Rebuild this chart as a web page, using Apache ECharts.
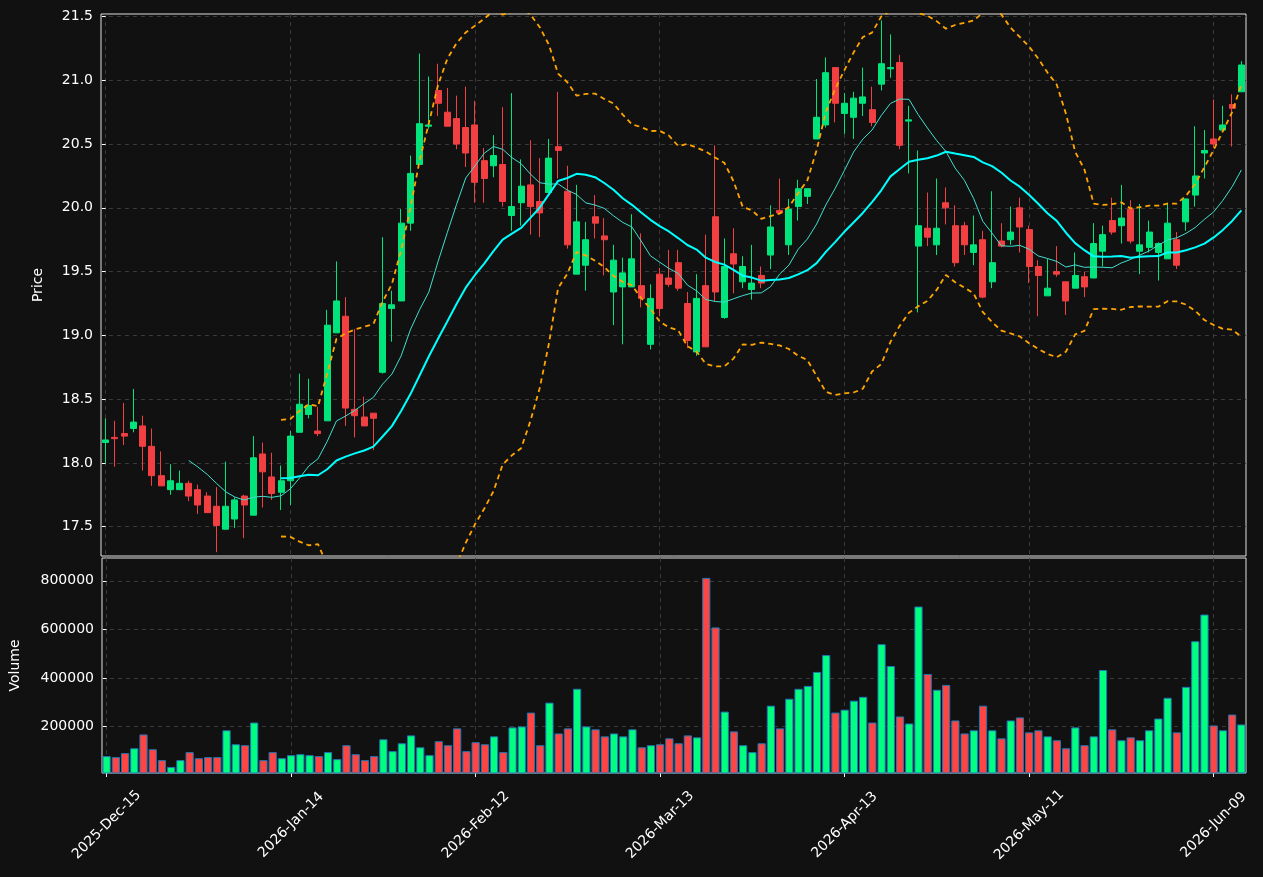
<!DOCTYPE html>
<html><head><meta charset="utf-8">
<script src="https://cdn.jsdelivr.net/npm/echarts@6/dist/echarts.min.js"></script>
<style>html,body{margin:0;padding:0;background:#111111;}#c{width:1263px;height:877px;}</style>
</head><body><div id="c"></div>
<script>
const tickIndex = [0, 20, 40, 60, 80, 100, 120];
const tickLabels = ['2025-Dec-15','2026-Jan-14','2026-Feb-12','2026-Mar-13','2026-Apr-13','2026-May-11','2026-Jun-09'];
const priceTicks = [17.5,18.0,18.5,19.0,19.5,20.0,20.5,21.0,21.5];
const volumeTicks = [200000,400000,600000,800000];
const opens = [18.16,18.20,18.23,18.27,18.29,18.13,17.90,17.79,17.79,17.84,17.79,17.74,17.66,17.48,17.56,17.74,17.59,18.07,17.89,17.77,
17.86,18.24,18.38,18.25,18.33,19.02,19.15,18.42,18.36,18.39,18.71,19.21,19.27,19.88,20.34,20.64,20.92,20.75,20.70,20.63,
20.65,20.37,20.33,20.34,19.94,20.04,20.18,20.05,20.12,20.48,20.13,19.48,19.55,19.93,19.78,19.34,19.38,19.38,19.39,18.93,
19.48,19.45,19.57,19.25,18.87,19.39,19.93,19.14,19.64,19.42,19.36,19.47,19.63,19.98,19.71,20.01,20.09,20.54,20.65,21.10,
20.74,20.71,20.82,20.77,20.97,21.09,21.14,20.68,19.70,19.84,19.71,20.04,19.86,19.86,19.65,19.75,19.42,19.74,19.75,20.00,
19.83,19.54,19.31,19.50,19.42,19.37,19.46,19.45,19.66,19.90,19.86,19.99,19.66,19.69,19.65,19.60,19.75,19.89,20.10,20.43,
20.54,20.61,20.81,20.91];
const closes = [18.18,18.19,18.21,18.32,18.13,17.90,17.82,17.86,17.84,17.74,17.67,17.61,17.51,17.66,17.71,17.67,18.04,17.93,17.76,17.86,
18.21,18.46,18.45,18.23,19.08,19.27,18.43,18.37,18.29,18.35,19.25,19.24,19.88,20.27,20.66,20.65,20.82,20.64,20.50,20.43,
20.20,20.23,20.41,20.05,20.01,20.17,20.01,19.96,20.39,20.45,19.71,19.89,19.75,19.88,19.75,19.59,19.49,19.60,19.29,19.29,
19.21,19.40,19.37,18.96,19.29,18.91,19.34,19.54,19.56,19.54,19.41,19.41,19.85,19.96,19.99,20.15,20.15,20.71,21.06,20.82,
20.82,20.86,20.87,20.67,21.13,21.10,20.49,20.69,19.86,19.77,19.84,20.00,19.57,19.71,19.71,19.30,19.57,19.70,19.81,19.85,
19.54,19.47,19.37,19.48,19.27,19.47,19.38,19.72,19.79,19.81,19.92,19.74,19.71,19.81,19.72,19.88,19.55,20.07,20.25,20.45,
20.50,20.65,20.78,21.12];
const lows = [18.00,17.97,18.14,18.24,17.94,17.82,17.82,17.75,17.79,17.70,17.60,17.61,17.30,17.48,17.49,17.41,17.59,17.65,17.71,17.63,
17.67,18.24,18.35,18.21,18.33,19.02,18.29,18.20,18.29,18.10,18.70,18.95,19.27,19.82,20.34,20.62,20.72,20.64,20.46,20.32,
20.04,20.04,20.24,20.01,19.82,19.86,19.79,19.77,20.12,20.23,19.68,19.48,19.35,19.76,19.47,19.08,18.93,19.38,19.22,18.89,
19.15,19.38,19.35,18.90,18.84,18.91,19.27,19.13,19.33,19.37,19.28,19.37,19.52,19.96,19.63,19.90,20.03,20.54,20.63,20.67,
20.58,20.54,20.72,20.64,20.92,21.02,20.46,20.27,19.18,19.70,19.63,19.87,19.54,19.63,19.55,19.29,19.37,19.69,19.71,19.65,
19.41,19.15,19.31,19.46,19.16,19.37,19.30,19.45,19.54,19.79,19.72,19.72,19.48,19.65,19.43,19.60,19.52,19.82,20.01,20.23,
20.47,20.61,20.48,20.91];
const highs = [18.35,18.33,18.47,18.58,18.37,18.27,18.09,17.99,17.94,17.86,17.83,17.77,17.81,18.01,17.73,17.75,18.21,18.16,18.08,17.98,
18.25,18.70,18.66,18.44,19.20,19.58,19.30,19.05,18.52,18.39,19.77,19.35,19.99,20.41,21.21,21.03,21.13,20.94,20.88,20.95,
20.84,20.47,20.57,20.79,20.90,20.38,20.53,20.39,20.54,20.91,20.33,20.18,19.89,20.10,19.92,19.71,19.61,19.95,19.80,19.40,
19.53,19.67,19.67,19.34,19.48,19.79,20.49,19.76,19.84,19.62,19.71,19.54,20.02,20.23,20.07,20.22,20.15,21.01,21.18,21.10,
20.90,20.91,21.10,20.95,21.47,21.36,21.20,20.80,20.45,20.12,20.23,20.16,20.02,19.89,19.94,19.82,20.13,19.88,20.01,20.08,
19.86,19.59,19.60,19.70,19.42,19.65,19.50,19.88,19.86,20.08,20.18,20.06,20.03,19.90,19.73,20.04,19.81,20.07,20.64,20.61,
20.85,20.80,20.89,21.15];
const volumes = [77600,73500,90000,110000,167000,106000,61000,33000,61000,94000,69000,73500,73500,184000,126500,122500,216000,61000,94000,69000,
81500,85500,81500,77600,94000,65000,122500,85500,61000,77600,147000,98000,130500,163000,114000,81500,139000,122500,192000,98000,
135000,126500,159000,94000,196000,200000,257000,122500,298000,171000,192000,355000,200000,188000,159000,171000,159000,188000,114000,122500,
126500,151000,130500,163000,155000,812000,608000,261000,179500,122500,94000,130500,285500,192000,314000,355000,367000,424500,494000,257000,
269000,306000,322000,216000,539000,449000,241000,212000,694000,416000,351000,371000,224500,171000,184000,285500,184000,151000,224500,237000,
175500,184000,159000,143000,110000,196000,122500,159000,432500,188000,143000,155000,143000,184000,232500,318000,175500,363000,551000,661000,
204000,184000,249000,208000];

const UP='#00e47c', DOWN='#f23f42', VUP='#00ff80', VDOWN='#ff4444';
const n = closes.length;
const candles = [], vol = [];
for (let i=0;i<n;i++){
  candles.push([i, opens[i], closes[i], lows[i], highs[i]]);
  const up = closes[i] >= opens[i];
  vol.push({value:[i, volumes[i]], itemStyle:{color: up?VUP:VDOWN}});
}
function ma(p){const r=[];for(let i=0;i<n;i++){if(i<p-1){r.push([i,null]);continue;}let s=0;for(let j=i-p+1;j<=i;j++)s+=closes[j];r.push([i,s/p]);}return r;}
const ma10=ma(10), ma20=ma(20);
const bbU=[], bbL=[];
for(let i=0;i<n;i++){
  if(i<19){bbU.push([i,null]);bbL.push([i,null]);continue;}
  const m=ma20[i][1];let s=0;for(let j=i-19;j<=i;j++)s+=(closes[j]-m)**2;
  const sd=Math.sqrt(s/19);bbU.push([i,m+2*sd]);bbL.push([i,m-2*sd]);
}
const font='DejaVu Sans';
const dash={show:true,lineStyle:{color:'#3a3a3a',type:[4,4],width:1}};
const tickStyle={show:true,length:4,lineStyle:{color:'#ffffff'}};
const chart=echarts.init(document.getElementById('c'));
chart.setOption({
  backgroundColor:'#111111',
  animation:false,
  textStyle:{fontFamily:font},
  grid:[
    {left:101,right:17,top:14,height:542,show:true,borderColor:'#e0e0e0',borderWidth:1,backgroundColor:'#111111'},
    {left:101,right:17,top:558,height:215,show:true,borderColor:'#e0e0e0',borderWidth:1,backgroundColor:'#111111'}
  ],
  xAxis:[
    {type:'value',gridIndex:0,min:-0.5,max:n-0.5,axisLine:{show:false},
     axisTick:{show:false,customValues:tickIndex},axisLabel:{show:false,customValues:tickIndex},splitLine:dash},
    {type:'value',gridIndex:1,min:-0.5,max:n-0.5,axisLine:{show:false},
     axisTick:Object.assign({customValues:tickIndex},tickStyle),
     axisLabel:{show:true,customValues:tickIndex,color:'#ffffff',fontSize:14,fontFamily:font,rotate:45,margin:52,
       align:'center',verticalAlign:'middle',
       formatter:v=>{const k=tickIndex.indexOf(Math.round(v));return k>=0?tickLabels[k]:'';}},
     splitLine:dash}
  ],
  yAxis:[
    {type:'value',gridIndex:0,min:17.27,max:21.52,name:'Price',nameLocation:'middle',nameGap:56,
     nameTextStyle:{color:'#ffffff',fontSize:14,fontFamily:font},
     axisLabel:{customValues:priceTicks,color:'#ffffff',fontSize:14,fontFamily:font,formatter:v=>v.toFixed(1)},
     axisTick:Object.assign({customValues:priceTicks},tickStyle),axisLine:{show:false},splitLine:dash},
    {type:'value',gridIndex:1,min:8000,max:894000,name:'Volume',nameLocation:'middle',nameGap:80,
     nameTextStyle:{color:'#ffffff',fontSize:14,fontFamily:font},
     axisLabel:{customValues:volumeTicks,color:'#ffffff',fontSize:14,fontFamily:font,formatter:v=>String(v)},
     axisTick:Object.assign({customValues:volumeTicks},tickStyle),axisLine:{show:false},splitLine:dash}
  ],
  series:[
    {type:'candlestick',xAxisIndex:0,yAxisIndex:0,data:candles,barWidth:6.5,
     encode:{x:0,y:[1,2,3,4]},
     itemStyle:{color:UP,color0:DOWN,borderColor:UP,borderColor0:DOWN,borderWidth:1}},
    {type:'line',xAxisIndex:0,yAxisIndex:0,data:ma10,showSymbol:false,lineStyle:{color:'#40e0d0',width:1},clip:true},
    {type:'line',xAxisIndex:0,yAxisIndex:0,data:ma20,showSymbol:false,lineStyle:{color:'#00ffff',width:2},clip:true},
    {type:'line',xAxisIndex:0,yAxisIndex:0,data:bbU,showSymbol:false,lineStyle:{color:'#ffa500',width:1.8,type:[5,4]},clip:true},
    {type:'line',xAxisIndex:0,yAxisIndex:0,data:bbL,showSymbol:false,lineStyle:{color:'#ffa500',width:1.8,type:[5,4]},clip:true},
    {type:'bar',xAxisIndex:1,yAxisIndex:1,data:vol,barWidth:8.2,itemStyle:{borderColor:'#1f77b4',borderWidth:1}}
  ]
});
</script></body></html>
